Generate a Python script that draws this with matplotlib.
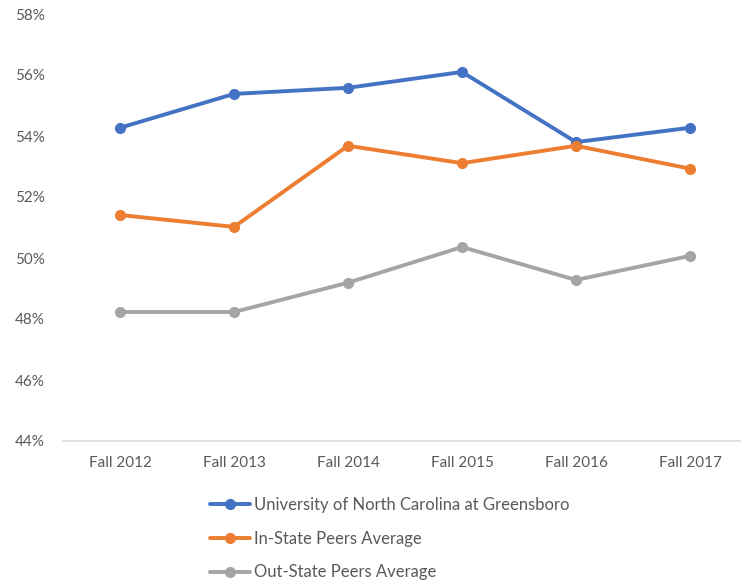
import matplotlib.pyplot as plt
from matplotlib.ticker import FuncFormatter

years = ["Fall 2012", "Fall 2013", "Fall 2014", "Fall 2015", "Fall 2016", "Fall 2017"]
uncg = [54.27, 55.38, 55.58, 56.10, 53.80, 54.27]
in_state = [51.41, 51.02, 53.68, 53.11, 53.68, 52.93]
out_state = [48.23, 48.23, 49.19, 50.36, 49.28, 50.07]
labels = ["University of North Carolina at Greensboro",
          "In-State Peers Average",
          "Out-State Peers Average"]
colors = ["#4472C4", "#ED7D31", "#A5A5A5"]

plt.rcParams['font.family'] = ['Lato', 'DejaVu Sans']

fig = plt.figure(figsize=(7.41, 5.82), dpi=100)
ax = fig.add_axes([63 / 741, 141 / 582, 684 / 741, 427 / 582])

x = range(len(years))
for vals, lab, col in zip([uncg, in_state, out_state], labels, colors):
    ax.plot(x, vals, color=col, lw=2.8, marker='o', ms=7, label=lab,
            solid_capstyle='round')

ax.set_xlim(-0.5, len(years) - 0.5)
ax.set_ylim(44, 58)
ax.set_yticks(range(44, 59, 2))
ax.yaxis.set_major_formatter(FuncFormatter(lambda v, p: f"{v:.0f}%"))
ax.set_xticks(list(x))
ax.set_xticklabels(years)

for s in ['top', 'right', 'left']:
    ax.spines[s].set_visible(False)
ax.spines['bottom'].set_color('#D9D9D9')
ax.spines['bottom'].set_linewidth(1.2)
ax.tick_params(axis='both', length=0, colors='#595959', labelsize=11)
ax.tick_params(axis='x', pad=11)
ax.tick_params(axis='y', pad=13)

ax.legend(loc='upper left', bbox_to_anchor=(210 / 741, 1 - 497 / 582),
          bbox_transform=fig.transFigure, ncol=1,
          frameon=False, fontsize=12, labelcolor='#595959',
          handlelength=2.4, handletextpad=0.25, labelspacing=1.06,
          borderaxespad=0, borderpad=0)

fig.savefig("out.png", dpi=100)
